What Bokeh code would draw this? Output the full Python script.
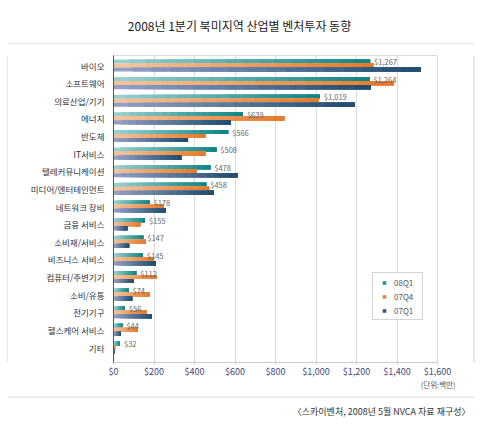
from bokeh.plotting import figure
from bokeh.layouts import column, row
from bokeh.models import (ColumnDataSource, Range1d, FixedTicker, NumeralTickFormatter,
                          Legend, LegendItem, Label, Title)
from bokeh.core.properties import value
from bokeh.embed import file_html
from bokeh.resources import INLINE

categories = ["바이오", "소프트웨어", "의료산업/기기", "에너지", "반도체", "IT서비스",
              "텔레커뮤니케이션", "미디어/엔터테인먼트", "네트워크 장비", "금융 서비스",
              "소비재/서비스", "비즈니스 서비스", "컴퓨터/주변기기", "소비/유통", "전기기구",
              "헬스케어 서비스", "기타"]
q1_08 = [1267, 1264, 1019, 639, 566, 508, 478, 458, 178, 155, 147, 145, 112, 74, 56, 44, 32]
q4_07 = [1283, 1385, 1012, 843, 453, 453, 412, 472, 247, 132, 160, 198, 214, 178, 162, 119, 8]
q1_07 = [1517, 1270, 1192, 580, 368, 335, 613, 496, 259, 68, 77, 209, 99, 92, 190, 36, 4]
series_names = ["08Q1", "07Q4", "07Q1"]
x_ticks = [0, 200, 400, 600, 800, 1000, 1200, 1400, 1600]

FONT = "Noto Sans CJK KR"
PANEL = "#cccccc"

def hex2rgb(h):
    h = h.lstrip("#")
    return tuple(int(h[i:i + 2], 16) for i in (0, 2, 4))

def interp(c1, c2, t):
    a, b = hex2rgb(c1), hex2rgb(c2)
    return "#%02x%02x%02x" % tuple(int(round(a[i] + (b[i] - a[i]) * t)) for i in range(3))

def strip(w, h):
    f = figure(width=w, height=h, output_backend="svg", toolbar_location=None,
               x_range=Range1d(0, w), y_range=Range1d(0, h),
               x_axis_location=None, y_axis_location=None, min_border=0,
               background_fill_color="white", border_fill_color="white")
    f.outline_line_color = None
    f.grid.visible = False
    return f

# --- title strip (with the panel's top edge)
top = strip(480, 44)
top.add_layout(Label(x=239, y=19, text="2008년 1분기 북미지역 산업별 벤처투자 동향",
                     text_align="center", text_baseline="middle", text_font=FONT,
                     text_font_size="12px", text_color="#1a1a1a"))
top.line(x=[7.5, 473.5], y=[0.5, 0.5], line_color=PANEL, line_width=1)

# --- side strips (panel's left / right edges)
left_s = strip(8, 352)
left_s.line(x=[7.5, 7.5], y=[0, 352], line_color=PANEL, line_width=1)
right_s = strip(8, 352)
right_s.line(x=[1.5, 1.5], y=[0, 352], line_color=PANEL, line_width=1)

# --- main chart
p = figure(width=464, height=352, output_backend="svg", toolbar_location=None,
           x_range=Range1d(0, 1600), y_range=Range1d(16.85, -0.57),
           min_border_left=105, min_border_right=35, min_border_top=11, min_border_bottom=34,
           background_fill_color="white", border_fill_color="white")
p.outline_line_color = "#dcdcdc"

pos = list(range(len(categories)))
bh = 0.232
off = [-0.227, 0.0, 0.227]
grad = [("#97d0cf", "#128787"), ("#f4c39c", "#e77a2a"), ("#929fc4", "#214e6e")]
legend_cols = ["#1e9696", "#e8863a", "#2c5878"]
nslices = 16

for s, vals in enumerate([q1_08, q4_07, q1_07]):
    c1, c2 = grad[s]
    for k in range(nslices):
        t = k / (nslices - 1)
        src = ColumnDataSource(dict(y=[i + off[s] for i in pos],
                                    left=[v * k / nslices for v in vals],
                                    right=vals))
        p.hbar(y="y", left="left", right="right", height=bh, source=src,
               fill_color=interp(c1, c2, t), line_color=None)

lab_src = ColumnDataSource(dict(x=q1_08, y=[i + off[0] for i in pos],
                                t=["$" + format(v, ",") for v in q1_08]))
p.text(x="x", y="y", text="t", source=lab_src, x_offset=4, text_baseline="middle",
       text_font_size="7.5px", text_color="#666666", text_font=value(FONT))

items = []
for s, name in enumerate(series_names):
    r = p.scatter(x=[float("nan")], y=[float("nan")], marker="square", size=5,
                  fill_color=legend_cols[s], line_color=None)
    items.append(LegendItem(label=name, renderers=[r]))
legend = Legend(items=items, location=(259, 42), padding=3, spacing=2, margin=0,
                glyph_width=16, glyph_height=9, label_height=12, label_width=25,
                label_standoff=2, label_text_font_size="8px", label_text_color="#555555",
                label_text_font=FONT, border_line_color="#aaaaaa", background_fill_color="white")
p.add_layout(legend)

p.xgrid.grid_line_color = "#dcdcdc"
p.ygrid.grid_line_color = None
p.xaxis.ticker = FixedTicker(ticks=x_ticks)
p.xaxis.formatter = NumeralTickFormatter(format="$0,0")
p.xaxis.axis_line_color = "#cccccc"
p.xaxis.major_tick_line_color = "#cccccc"
p.xaxis.major_tick_out = 2
p.xaxis.major_tick_in = 0
p.xaxis.minor_tick_line_color = None
p.xaxis.major_label_standoff = 0
p.xaxis.major_label_text_font = FONT
p.xaxis.major_label_text_font_size = "9px"
p.xaxis.major_label_text_color = "#3e4a7e"

p.yaxis.ticker = FixedTicker(ticks=pos)
p.yaxis.major_label_overrides = {i: c for i, c in enumerate(categories)}
p.yaxis.axis_line_color = "#555555"
p.yaxis.major_tick_line_color = None
p.yaxis.minor_tick_line_color = None
p.yaxis.major_tick_out = 0
p.yaxis.major_label_standoff = 9
p.yaxis.major_label_text_font = FONT
p.yaxis.major_label_text_font_size = "8.5px"
p.yaxis.major_label_text_color = "#2a3040"

p.add_layout(Title(text="(단위:백만)", align="right", offset=-18, standoff=-4,
                   vertical_align="top",
                   text_font=FONT, text_font_size="7.5px", text_font_style="normal",
                   text_color="#555555"), "below")

# --- source strip (with the panel's bottom edge)
bot = strip(480, 30)
bot.line(x=[7.5, 473.5], y=[29.5, 29.5], line_color=PANEL, line_width=1)
bot.add_layout(Label(x=470, y=15, text="〈스카이벤처, 2008년 5월 NVCA 자료 재구성〉",
                     text_align="right", text_baseline="middle", text_font=FONT,
                     text_font_size="9px", text_color="#333333"))

layout = column(top, row(left_s, p, right_s, spacing=0), bot, spacing=0)
open("out.html", "w").write(file_html(layout, INLINE))
